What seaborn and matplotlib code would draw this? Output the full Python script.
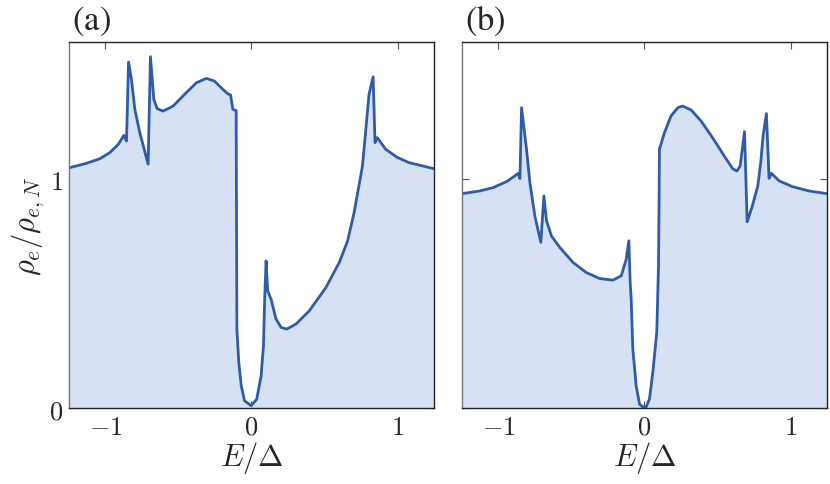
import numpy as np
import pandas as pd
import matplotlib
matplotlib.use("Agg")
import matplotlib.pyplot as plt
import seaborn as sns

# energies (E/Delta) and normalized density of states
energy_a = [-1.25, -1.129, -1.038, -0.969, -0.912, -0.874, -0.856, -0.842, -0.822,
            -0.799, -0.765, -0.708, -0.692, -0.669, -0.646, -0.605, -0.537, -0.446,
            -0.377, -0.309, -0.253, -0.196, -0.162, -0.143, -0.128, -0.105, -0.100,
            -0.087, -0.070, -0.048, -0.002, 0.036, 0.066, 0.082, 0.091, 0.100,
            0.111, 0.134, 0.168, 0.203, 0.241, 0.305, 0.396, 0.510, 0.601, 0.658,
            0.703, 0.760, 0.805, 0.833, 0.846, 0.862, 0.919, 1.000, 1.078, 1.25]
dos_a = [1.050, 1.070, 1.090, 1.117, 1.153, 1.192, 1.167, 1.512, 1.437,
         1.306, 1.204, 1.066, 1.536, 1.349, 1.309, 1.298, 1.320, 1.379,
         1.422, 1.441, 1.429, 1.393, 1.374, 1.368, 1.306, 1.300, 0.345,
         0.200, 0.097, 0.032, 0.010, 0.039, 0.141, 0.272, 0.490, 0.643,
         0.512, 0.476, 0.389, 0.352, 0.345, 0.367, 0.425, 0.527, 0.636, 0.730,
         0.855, 1.058, 1.371, 1.448, 1.160, 1.182, 1.131, 1.095, 1.073, 1.046]

energy_b = [-1.25, -1.126, -1.035, -0.944, -0.887, -0.865, -0.853, -0.842, -0.808,
            -0.785, -0.751, -0.710, -0.689, -0.671, -0.637, -0.580, -0.489, -0.398,
            -0.307, -0.216, -0.159, -0.125, -0.107, -0.098, -0.091, -0.080, -0.057,
            -0.034, -0.012, 0.012, 0.034, 0.057, 0.084, 0.096, 0.100, 0.102, 0.137,
            0.182, 0.228, 0.262, 0.319, 0.387, 0.466, 0.546, 0.603, 0.633, 0.655,
            0.685, 0.703, 0.739, 0.776, 0.796, 0.812, 0.835, 0.853, 0.869, 0.922,
            1.012, 1.126, 1.25]
dos_b = [0.937, 0.949, 0.964, 0.990, 1.015, 1.026, 1.003, 1.313, 1.131,
         0.986, 0.840, 0.724, 0.927, 0.818, 0.752, 0.702, 0.636, 0.592,
         0.566, 0.559, 0.578, 0.651, 0.731, 0.549, 0.476, 0.258, 0.097,
         0.017, 0.005, 0.005, 0.039, 0.156, 0.331, 0.621, 0.913, 1.131, 1.204,
         1.277, 1.313, 1.320, 1.303, 1.255, 1.182, 1.102, 1.047, 1.036, 1.058,
         1.208, 0.814, 0.884, 0.971, 1.073, 1.189, 1.287, 1.004, 1.026, 0.993,
         0.968, 0.949, 0.937]

panel_labels = ["(a)", "(b)"]
x_ticks = [-1, 0, 1]
x_tick_labels = [r"$-1$", r"$0$", r"$1$"]
y_ticks = [0, 1]
y_tick_labels = [r"$0$", r"$1$"]

line_color = "#2e5ca8"
fill_color = "#d6e2f3"

sns.set_theme(style="ticks")
plt.rcParams["mathtext.fontset"] = "cm"
plt.rcParams["font.family"] = ["DejaVu Serif"]

fig = plt.figure(figsize=(8.3, 4.85), dpi=100)
ax_a = fig.add_axes([0.0831, 0.1567, 0.4398, 0.7546])
ax_b = fig.add_axes([0.5566, 0.1567, 0.4398, 0.7546])

panels = [(ax_a, energy_a, dos_a), (ax_b, energy_b, dos_b)]
for i, (ax, e, d) in enumerate(panels):
    df = pd.DataFrame({"E": e, "rho": d})
    ax.fill_between(df["E"], 0, df["rho"], color=fill_color, lw=0)
    sns.lineplot(data=df, x="E", y="rho", ax=ax, color=line_color, lw=2.0,
                 sort=False, estimator=None)
    ax.set_xlim(-1.25, 1.25)
    ax.set_ylim(0, 1.6)
    ax.set_xticks(x_ticks)
    ax.set_xticklabels(x_tick_labels, fontsize=19)
    ax.set_yticks(y_ticks)
    if i == 0:
        ax.set_yticklabels(y_tick_labels, fontsize=19)
        ax.set_ylabel(r"$\rho_e/\rho_{e,N}$", fontsize=22, labelpad=2)
    else:
        ax.set_yticklabels([])
        ax.set_ylabel("")
    ax.set_xlabel(r"$E/\Delta$", fontsize=22, labelpad=0)
    ax.tick_params(direction="in", length=5, width=0.8, top=True, right=True,
                   color="#555555", pad=4)
    for side in ["top", "right", "bottom"]:
        ax.spines[side].set_color("#222222")
        ax.spines[side].set_linewidth(1.0)
    ax.spines["left"].set_color("#777777")
    ax.spines["left"].set_linewidth(1.0)
    ax.text(0.008, 1.036, r"$\mathrm{" + panel_labels[i] + "}$", transform=ax.transAxes,
            fontsize=25, math_fontfamily="stix", ha="left", va="baseline")

fig.savefig("out.png", dpi=100)
